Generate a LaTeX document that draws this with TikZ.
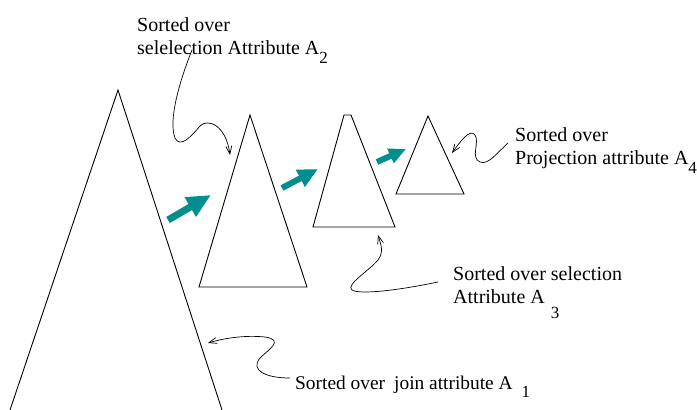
\documentclass[tikz,border=0pt]{standalone}
\usepackage{fontspec}
\setmainfont{Liberation Serif}
\usetikzlibrary{arrows.meta}
\definecolor{flowteal}{RGB}{0,142,142}
\newcommand{\lowsub}[2]{\raisebox{-#1}{\fontsize{17}{17}\selectfont #2}}
\tikzset{
  relation/.style={draw=black, line width=0.9pt, line join=miter},
  flowarrow/.style={draw=flowteal, fill=flowteal, line width=#1},
  note/.style={anchor=base west, inner sep=0pt, font=\fontsize{20}{23}\selectfont},
  pointer/.style={draw=black, line width=0.7pt, -{Straight Barb[length=8pt,width=6pt]}}
}
\begin{document}
\begin{tikzpicture}[x=1pt,y=1pt]
\useasboundingbox (0,0) rectangle (697,410);

% relations drawn as triangles (heights give the sizes)
\coordinate (r1l) at (10,0);
\coordinate (r1t) at (118,320);
\coordinate (r1r) at (222,0);
\draw[relation] (r1l) -- (r1t) -- (r1r);
\draw[relation] (199,123) -- (250,295) -- (307,123) -- cycle;
\draw[relation] (313,183) -- (344,295) -- (351,295) -- (395,183) -- cycle;
\draw[relation] (396,216) -- (428,294) -- (464,216) -- cycle;

% data flow between the stages
\coordinate (f1a) at (168,190); \coordinate (f1b) at (211,215);
\coordinate (f2a) at (282,222); \coordinate (f2b) at (318,241);
\coordinate (f3a) at (377,248); \coordinate (f3b) at (406,261);
\draw[flowarrow=7pt, -{Triangle[length=24pt,width=21pt]}] (f1a) -- (f1b);
\draw[flowarrow=6pt, -{Triangle[length=20pt,width=18pt]}] (f2a) -- (f2b);
\draw[flowarrow=6pt, -{Triangle[length=17pt,width=15pt]}] (f3a) -- (f3b);

% annotations
\node[note] (n2) at (137,378) {\vtop{\hbox{Sorted over}\hbox{selelection Attribute A\lowsub{9pt}{2}}}};
\node[note] (n4) at (515,268) {\vtop{\hbox{Sorted over}\hbox{Projection attribute A\lowsub{9pt}{4}}}};
\node[note] (n3) at (453,129) {\vtop{\hbox{Sorted over selection}\hbox{Attribute A\hspace{6pt}\lowsub{15pt}{3}}}};
\node[note, font=\fontsize{19.4}{23}\selectfont] (n1) at (295,20) {Sorted over\hspace{9pt}join attribute A\hspace{9pt}\lowsub{8pt}{1}};

% pointers from annotations to the relations
\coordinate (s2) at (192,360); \coordinate (t2) at (230,255);
\draw[pointer] (s2) .. controls (180,330) and (168,290) .. (175,272)
  .. controls (180,262) and (190,272) .. (200,284)
  .. controls (208,292) and (226,285) .. (t2);

\coordinate (s4) at (508,267); \coordinate (t4) at (452,257);
\draw[pointer] (s4) .. controls (495,255) and (488,245) .. (480,248)
  .. controls (470,252) and (480,268) .. (475,275)
  .. controls (470,282) and (460,268) .. (t4);

\coordinate (s3) at (438,128); \coordinate (t3) at (378,175);
\draw[pointer] (s3) .. controls (400,120) and (360,115) .. (352,120)
  .. controls (345,125) and (370,140) .. (378,150)
  .. controls (384,158) and (381,165) .. (t3);

\coordinate (s1) at (290,32); \coordinate (t1) at (208,67);
\draw[pointer] (s1) .. controls (265,32) and (250,40) .. (260,52)
  .. controls (268,60) and (285,70) .. (265,73)
  .. controls (245,75) and (225,72) .. (t1);
\end{tikzpicture}
\end{document}
